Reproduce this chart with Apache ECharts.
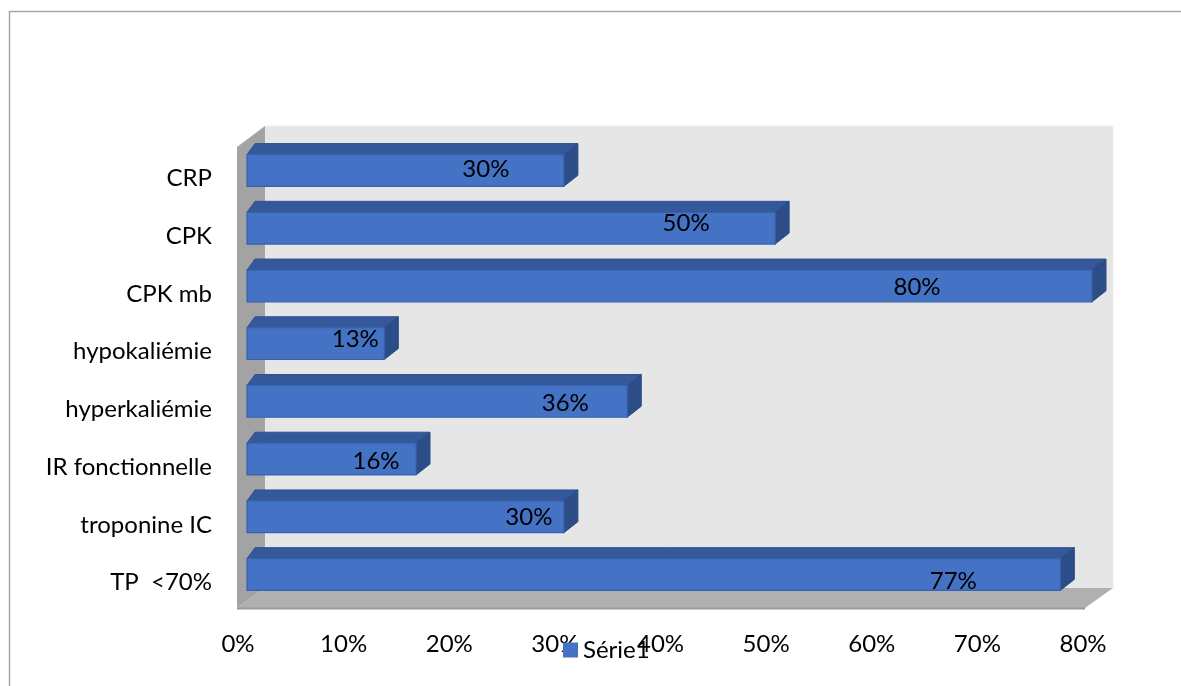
<!DOCTYPE html>
<html>
<head>
<meta charset="utf-8">
<script src="https://cdn.jsdelivr.net/npm/echarts@6/dist/echarts.min.js"></script>
<style>
  html, body { margin: 0; padding: 0; background: #fff; }
  #chart { width: 1181px; height: 686px; }
</style>
</head>
<body>
<div id="chart"></div>
<script>
// Categories, top to bottom
const categories = ['CRP', 'CPK', 'CPK mb', 'hypokaliémie', 'hyperkaliémie', 'IR fonctionnelle', 'troponine IC', 'TP  <70%'];
// Share of patients for each test (fraction)
const values = [0.30, 0.50, 0.80, 0.13, 0.36, 0.16, 0.30, 0.77];
// Value axis tick labels
const tickValues = [0, 0.1, 0.2, 0.3, 0.4, 0.5, 0.6, 0.7, 0.8];
const seriesName = 'Série1';

// Label placement inside each bar, in pixels from the bar's front right end / centre
const labelShift = [[-78, -1], [-89, -5], [-175, 1], [-29, -4], [-62, 2], [-40, 2], [-35, 0], [-107, 7]];

const FONT = 'Lato';
const FS = 24;
const pct = v => Math.round(v * 100) + '%';

const chart = echarts.init(document.getElementById('chart'));

chart.setOption({
  animation: false,
  backgroundColor: '#fff',
  graphic: [
    // chart border
    { type: 'rect', z: -20, shape: { x: 9.5, y: 11.5, width: 1200, height: 700 },
      style: { fill: '#fff', stroke: '#a6a6a6', lineWidth: 1.5 } },
    // back wall
    { type: 'rect', z: -10, shape: { x: 265, y: 126, width: 848, height: 462 },
      style: { fill: '#e6e6e6', stroke: '#ededed', lineWidth: 1 } },
    // left wall
    { type: 'polygon', z: -10, shape: { points: [[237, 147], [265, 126], [265, 588], [237, 608]] },
      style: { fill: '#a3a3a3' } },
    // floor
    { type: 'polygon', z: -10, shape: { points: [[237, 608], [265, 588], [1113, 588], [1085, 608]] },
      style: { fill: '#b0b0b0' } },
    { type: 'line', z: -9, shape: { x1: 237, y1: 608.5, x2: 1085, y2: 608.5 },
      style: { stroke: '#9a9a9a', lineWidth: 2 } }
  ],
  legend: {
    data: [{ name: seriesName, icon: 'rect' }],
    left: 563, top: 638, padding: 0,
    itemWidth: 15, itemHeight: 15, itemGap: 10,
    textStyle: { fontFamily: FONT, fontSize: FS, color: '#000' }
  },
  grid: [
    // bars
    { left: 247, right: 89, top: 141.6, bottom: 82.6 },
    // axis labels
    { left: 238, right: 98, top: 149.5, bottom: 74.5 }
  ],
  xAxis: [
    { gridIndex: 0, type: 'value', min: 0, max: 0.8, show: false },
    { gridIndex: 1, type: 'value', min: 0, max: 0.8, interval: 0.1,
      axisLine: { show: false }, axisTick: { show: false }, splitLine: { show: false },
      axisLabel: { margin: 21, fontFamily: FONT, fontSize: FS, color: '#000',
        formatter: v => tickValues.some(t => Math.abs(t - v) < 1e-9) ? pct(v) : '' } }
  ],
  yAxis: [
    { gridIndex: 0, type: 'category', data: categories, inverse: true, show: false },
    { gridIndex: 1, type: 'category', data: categories, inverse: true,
      axisLine: { show: false }, axisTick: { show: false }, splitLine: { show: false },
      axisLabel: { margin: 26, fontFamily: FONT, fontSize: FS, color: '#000' } }
  ],
  series: [{
    name: seriesName,
    type: 'custom',
    xAxisIndex: 0, yAxisIndex: 0,
    itemStyle: { color: '#4472c4' },
    encode: { x: 0, y: 1 },
    data: values.map((v, i) => [v, i]),
    renderItem(params, api) {
      const v = api.value(0), i = api.value(1);
      const p0 = api.coord([0, i]);
      const p1 = api.coord([v, i]);
      const h = api.size([0, 1])[1] * 0.55;
      const x0 = p0[0], x1 = p1[0], yc = p0[1];
      const top = yc - h / 2, bot = yc + h / 2;
      const dy = 11, dxL = 8, dxR = 14;
      const sh = labelShift[i] || [-40, 0];
      return {
        type: 'group',
        children: [
          { type: 'polygon',
            shape: { points: [[x0, top], [x0 + dxL, top - dy], [x1 + dxR, top - dy], [x1, top]] },
            style: { fill: '#34589a', stroke: '#2f5190', lineWidth: 1 } },
          { type: 'polygon',
            shape: { points: [[x1, top], [x1 + dxR, top - dy], [x1 + dxR, bot - dy], [x1, bot]] },
            style: { fill: '#2c4d88', stroke: '#2a4a83', lineWidth: 1 } },
          { type: 'rect',
            shape: { x: x0, y: top, width: x1 - x0, height: h },
            style: { fill: '#4472c4', stroke: '#3762ad', lineWidth: 1.2 } },
          { type: 'text',
            style: { x: x1 + sh[0], y: yc + sh[1], text: pct(v), align: 'center', verticalAlign: 'middle',
              fill: '#000', font: FS + 'px ' + FONT } }
        ]
      };
    }
  }]
});
</script>
</body>
</html>
